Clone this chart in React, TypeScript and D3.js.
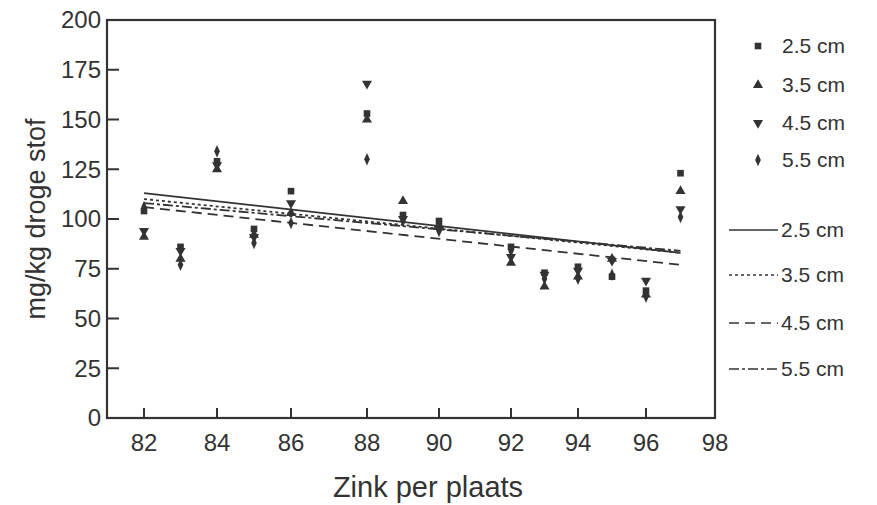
import React from "react";
import * as d3 from "d3";

const xValues = [82, 83, 84, 85, 86, 88, 89, 90, 92, 93, 94, 95, 96, 97];
const s25 = [104, 86, 129, 95, 114, 153, 102, 99, 86, 73, 76, 71, 64, 123];
const s35 = [91, 80, 125, 92, 103, 150, 109, 97, 78, 66, 71, 80, 62, 114];
const s45 = [94, 84, 127, 91, 108, 168, 100, 95, 81, 72, 74, 79, 69, 105];
const s55 = [106, 77, 134, 88, 98, 130, 99, 94, 84, 70, 70, 72, 61, 101];
const seriesNames = ["2.5 cm", "3.5 cm", "4.5 cm", "5.5 cm"];
const trendX = [82, 97];
const trendStart = [113, 110, 106, 108];
const trendEnd = [83, 83, 77, 84];
const xTicks = [82, 84, 86, 88, 90, 92, 94, 96, 98];
const yTicks = [0, 25, 50, 75, 100, 125, 150, 175, 200];

const W = 877, H = 505;
const L = 107, R = 715, T = 20, B = 418;
const INK = "#333";
const FONT = "Liberation Sans, Arial, sans-serif";

export default function App() {
  // piecewise scale follows the scanned axis tick positions
  const x = d3.scaleLinear()
    .domain([81, ...xTicks])
    .range([L, 144, 217, 291, 367, 439, 511, 578, 646, R]);
  const y = d3.scaleLinear().domain([0, 200]).range([B, T]);

  const series = [s25, s35, s45, s55];
  const symbols = [d3.symbolSquare, d3.symbolTriangle, d3.symbolTriangle, d3.symbolDiamond];
  const symSize = [44, 44, 44, 38];
  const rot = [0, 0, 180, 0];
  const dashes = ["", "3,3", "10,6", "10,3,3,3"];

  const markerPath = (i: number) =>
    d3.symbol().type(symbols[i]).size(symSize[i])() as string;
  const sx = (i: number) => (i === 3 ? "scale(0.85,1.1)" : "");

  const line = d3.line<[number, number]>().x(d => x(d[0])).y(d => y(d[1]));

  const legendY = [46, 85, 123, 160, 230, 275, 323, 369];

  return (
    <svg width={W} height={H} style={{ position: "absolute", left: 0, top: 0, background: "#fff" }}>
      <rect x={0} y={0} width={W} height={H} fill="#fff" />
      {/* frame */}
      <rect x={L} y={T} width={R - L} height={B - T} fill="none" stroke={INK} strokeWidth={2.2} />
      {yTicks.map(t => (
        <g key={"y" + t}>
          <line x1={L} x2={L + 12} y1={y(t)} y2={y(t)} stroke={INK} strokeWidth={2} />
          <text x={L - 6} y={y(t)} dy="0.35em" textAnchor="end" fontFamily={FONT} fontSize={24} fill={INK}>{t}</text>
        </g>
      ))}
      {xTicks.map(t => (
        <g key={"x" + t}>
          {t < 98 && <line x1={x(t)} x2={x(t)} y1={B} y2={B - 10} stroke={INK} strokeWidth={2} />}
          <text x={x(t)} y={443} dy="0.35em" textAnchor="middle" fontFamily={FONT} fontSize={24} fill={INK}>{t}</text>
        </g>
      ))}
      <text x={428} y={487} dy="0.35em" textAnchor="middle" fontFamily={FONT} fontSize={29} fill={INK}>Zink per plaats</text>
      <text transform={`translate(36,${(T + B) / 2}) rotate(-90)`} dy="0.35em" textAnchor="middle" fontFamily={FONT} fontSize={27} fill={INK}>mg/kg droge stof</text>

      {/* trend lines */}
      {trendStart.map((s, i) => (
        <path key={"t" + i} d={line([[trendX[0], s], [trendX[1], trendEnd[i]]]) as string}
          fill="none" stroke={INK} strokeWidth={1.8} strokeDasharray={dashes[i]} />
      ))}

      {/* points */}
      {series.map((vals, i) => vals.map((v, j) => (
        <path key={`p${i}-${j}`} d={markerPath(i)}
          transform={`translate(${x(xValues[j])},${y(v)}) rotate(${rot[i]}) ${sx(i)}`}
          fill={INK} />
      )))}

      {/* legend */}
      {seriesNames.map((n, i) => (
        <g key={"lm" + i}>
          <path d={markerPath(i)} transform={`translate(758,${legendY[i]}) rotate(${rot[i]}) ${sx(i)}`} fill={INK} />
          <text x={782} y={legendY[i]} dy="0.35em" fontFamily={FONT} fontSize={21} fill={INK}>{n}</text>
        </g>
      ))}
      {seriesNames.map((n, i) => (
        <g key={"ll" + i}>
          <line x1={729} x2={778} y1={legendY[i + 4]} y2={legendY[i + 4]} stroke={INK} strokeWidth={1.6} strokeDasharray={dashes[i]} />
          <text x={781} y={legendY[i + 4]} dy="0.35em" fontFamily={FONT} fontSize={21} fill={INK}>{n}</text>
        </g>
      ))}
    </svg>
  );
}
